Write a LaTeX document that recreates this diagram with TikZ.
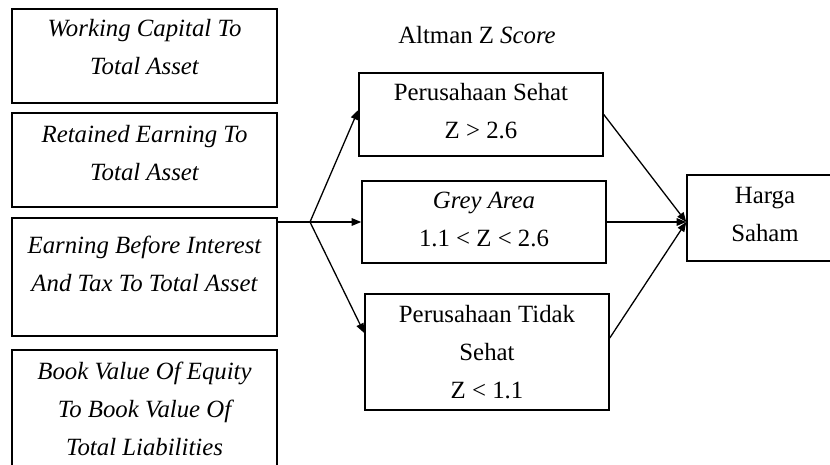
\documentclass[tikz,border=0pt]{standalone}
\usepackage{fontspec}
\setmainfont{Liberation Serif}
\usetikzlibrary{arrows.meta}

\newcommand{\isikotak}[4][14pt]{\parbox[c][#2][t]{#3}{\centering\rule{0pt}{#1}#4}}

\begin{document}
\begin{tikzpicture}[x=0.5pt,y=-0.5pt]

 \tikzset{
    every node/.style={font=\fontsize{12.4}{19}\selectfont},
    kotak/.style={draw, line width=0.75pt, inner sep=0pt},
    panah/.style={-{Triangle[length=4.8pt,width=3.8pt]}, line width=0.65pt},
    garis/.style={line width=0.65pt},
  }

  \useasboundingbox (0,0) rectangle (830,465);
  \clip (0,0) rectangle (830,465);

  % rasio keuangan
  \node[kotak] (wcta) at (144.5,56) {\isikotak[13.5pt]{47pt}{132.5pt}{\itshape Working Capital To\\Total Asset}};
  \node[kotak] (reta) at (144.5,160) {\isikotak[14.5pt]{47pt}{132.5pt}{\itshape Retained Earning To\\Total Asset}};
  \node[kotak] (ebit) at (144.5,277) {\isikotak[17.5pt]{59pt}{132.5pt}{\itshape Earning Before Interest\\And Tax To Total Asset}};
  \node[kotak] (bve) at (144.5,412.5) {\isikotak[14.5pt]{62.5pt}{132.5pt}{\itshape Book Value Of Equity\\To Book Value Of\\Total Liabilities}};

  % kategori z score
  \node (judul) at (477,35) {Altman Z \textit{Score}};
  \node[kotak] (sehat) at (481,114.5) {\isikotak{41.5pt}{122pt}{Perusahaan Sehat\\Z > 2.6}};
  \node[kotak] (grey) at (484,222) {\isikotak[13.5pt]{41pt}{122pt}{\textit{Grey Area}\\1.1 < Z < 2.6}};
  \node[kotak] (tidak) at (487,352) {\isikotak{58pt}{122pt}{Perusahaan Tidak\\Sehat\\Z < 1.1}};

  \node[kotak] (harga) at (787,218) {\isikotak[14.5pt]{43pt}{100pt}{\rightskip=22pt plus 1fil Harga\\Saham}};

  \coordinate (cabang) at (310,222);
  \draw[garis] (ebit.north east |- cabang) -- (cabang);
  \draw[panah] (cabang) -- ([yshift=2.25pt]sehat.west);
  \draw[panah] (cabang) -- (grey.west);
  \draw[panah] (cabang) -- ([yshift=9.5pt]tidak.west);

  \draw[panah] (sehat.east) -- ([yshift=-2pt]harga.west);
  \draw[panah] (grey.east) -- ([yshift=-2pt]harga.west);
  \draw[panah] ([yshift=7pt]tidak.east) -- ([yshift=-2pt]harga.west);
\end{tikzpicture}
\end{document}
